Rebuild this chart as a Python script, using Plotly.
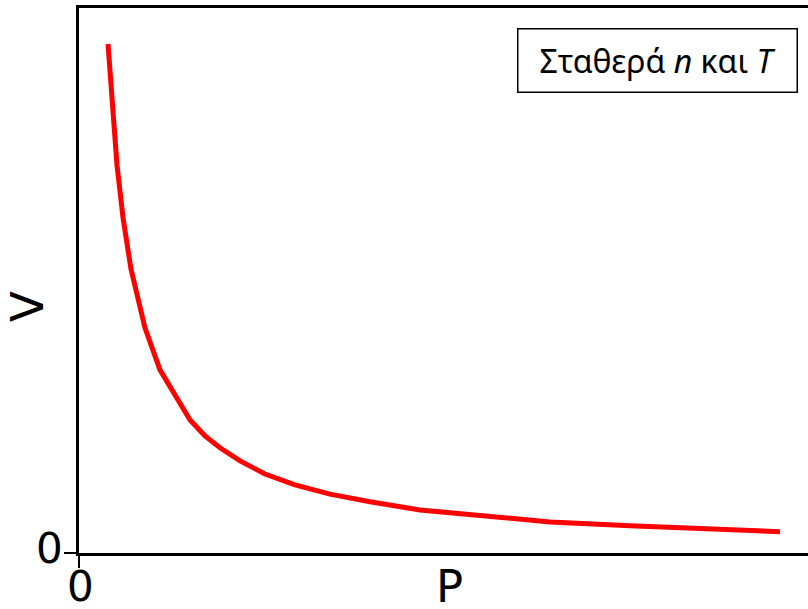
import plotly.graph_objects as go

# Values (P and V in arbitrary units, axis range 0..10)
pressure = [0.398, 0.453, 0.521, 0.604, 0.713, 0.905, 1.111, 1.523, 1.728, 1.934,
            2.209, 2.551, 2.963, 3.443, 3.992, 4.678, 5.501, 6.461, 7.558, 8.519, 9.616]
volume = [9.34, 8.20, 7.12, 6.15, 5.21, 4.13, 3.36, 2.44, 2.15, 1.93,
          1.69, 1.45, 1.25, 1.08, 0.94, 0.79, 0.68, 0.57, 0.50, 0.44, 0.39]
tick_vals = [0]
tick_text = ["0"]
x_title = "P"
y_title = "V"
box_text = "Σταθερά <i>n</i> και <i>T</i>"

fig = go.Figure()
fig.add_trace(go.Scatter(x=pressure, y=volume, mode="lines",
                         line=dict(color="#ff0000", width=5), showlegend=False,
                         hoverinfo="skip"))

tick_font = dict(family="DejaVu Sans", size=42, color="black")
title_font = dict(family="DejaVu Sans", size=45, color="black")
W, H = 729, 545  # plot area in pixels (for placing text labels)

fig.update_layout(
    width=808, height=609,
    margin=dict(l=79, r=0, t=8, b=56, autoexpand=False),
    paper_bgcolor="white", plot_bgcolor="white",
    xaxis=dict(range=[0, 10], showline=True, linecolor="black", linewidth=2.5,
               mirror=True, showgrid=False, zeroline=False, automargin=False,
               tickvals=tick_vals, showticklabels=False, ticks="outside",
               ticklen=12, tickwidth=2, tickcolor="black"),
    yaxis=dict(range=[0, 10], showline=True, linecolor="black", linewidth=2.5,
               showgrid=False, zeroline=False, automargin=False,
               tickvals=tick_vals, showticklabels=False, ticks="outside",
               ticklen=12, tickwidth=2, tickcolor="black"),
    annotations=[
        # tick labels
        dict(text=tick_text[0], xref="x", yref="paper", x=tick_vals[0], y=-(586 - 553) / H,
             xanchor="center", yanchor="middle", xshift=1, showarrow=False, font=tick_font),
        dict(text=tick_text[0], xref="paper", yref="y", x=-(79 - 49.5) / W, y=tick_vals[0],
             xanchor="center", yanchor="middle", yshift=5, showarrow=False, font=tick_font),
        # axis titles
        dict(text=x_title, xref="paper", yref="paper", x=(449 - 79) / W, y=-(586 - 553) / H,
             xanchor="center", yanchor="middle", showarrow=False, font=title_font),
        dict(text=y_title, xref="paper", yref="paper", x=-(79 - 27) / W, y=(553 - 307) / H,
             xanchor="center", yanchor="middle", showarrow=False, font=title_font, textangle=-90),
        # box
        dict(text=box_text, xref="paper", yref="paper", x=(657 - 79) / W, y=(553 - 60) / H,
             xanchor="center", yanchor="middle", showarrow=False,
             font=dict(family="Noto Sans", size=32, color="black"),
             bordercolor="black", borderwidth=1.5, bgcolor="white",
             width=272, height=56, borderpad=3),
    ],
)

fig.write_html("out.html", config={"displayModeBar": False},
               post_script="document.body.style.margin='0';document.body.style.overflow='hidden';")
